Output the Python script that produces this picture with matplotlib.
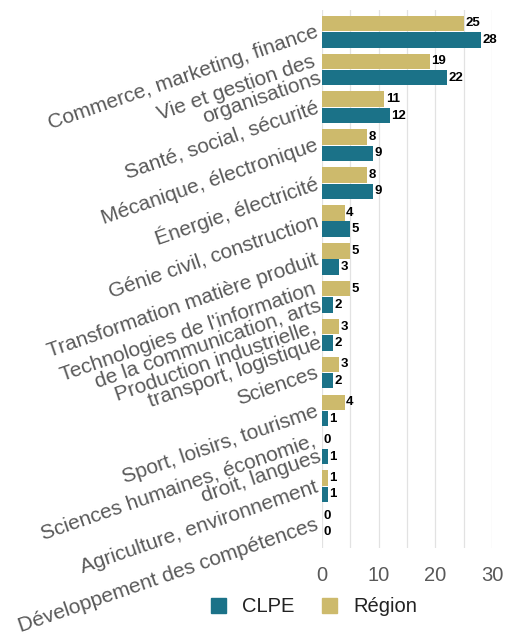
import matplotlib.pyplot as plt
import numpy as np
from matplotlib.patches import Patch

categories = [
    "Commerce, marketing, finance",
    "Vie et gestion des\norganisations",
    "Santé, social, sécurité",
    "Mécanique, électronique",
    "Énergie, électricité",
    "Génie civil, construction",
    "Transformation matière produit",
    "Technologies de l'information\nde la communication, arts",
    "Production industrielle,\ntransport, logistique",
    "Sciences",
    "Sport, loisirs, tourisme",
    "Sciences humaines, économie,\ndroit, langues",
    "Agriculture, environnement",
    "Développement des compétences",
]
region = [25, 19, 11, 8, 8, 4, 5, 5, 3, 3, 4, 0, 1, 0]
clpe = [28, 22, 12, 9, 9, 5, 3, 2, 2, 2, 1, 1, 1, 0]

GOLD = "#CDBA6C"
TEAL = "#1B7288"
GRAY = "#595959"

plt.rcParams["font.family"] = ["Liberation Sans", "DejaVu Sans"]

fig = plt.figure(figsize=(5.05, 6.41), dpi=100)
ax = fig.add_axes([322 / 505, 1 - 548 / 641, 170 / 505, 538 / 641])

y = np.arange(len(categories))
h = 0.41
off = 0.215
bars_r = ax.barh(y - off, region, height=h, color=GOLD)
bars_c = ax.barh(y + off, clpe, height=h, color=TEAL)

for bars, vals in ((bars_r, region), (bars_c, clpe)):
    for b, v in zip(bars, vals):
        ax.annotate(str(v), (b.get_width(), b.get_y() + b.get_height() / 2),
                    xytext=(1, 0), textcoords="offset points",
                    ha="left", va="center", fontsize=9.5, fontweight="bold",
                    color="black")

ax.set_xlim(0, 30)
ax.set_ylim(13.63, -0.57)
ax.set_xticks([0, 10, 20, 30])
ax.set_xticks([5, 15, 25], minor=True)
ax.grid(axis="x", which="both", color="#E2E2E2", linewidth=0.9)
ax.set_axisbelow(True)
ax.tick_params(axis="x", which="both", length=0, pad=13, labelsize=14.5,
               labelcolor=GRAY)
ax.set_yticks(y)
ax.set_yticklabels(categories, rotation=19, rotation_mode="anchor",
                   ha="right", va="center", fontsize=15, color=GRAY,
                   linespacing=0.9)
ax.tick_params(axis="y", length=0, pad=3)
for s in ax.spines.values():
    s.set_visible(False)

handles = [Patch(color=TEAL, label="CLPE"), Patch(color=GOLD, label="Région")]
fig.legend(handles=handles, loc="center", bbox_to_anchor=(314 / 505, 1 - 607 / 641),
           ncol=2, frameon=False, fontsize=14.5, handlelength=0.75,
           handleheight=0.75, handletextpad=0.8, columnspacing=1.4,
           labelcolor="#222222")

fig.savefig("out.png", dpi=100)
